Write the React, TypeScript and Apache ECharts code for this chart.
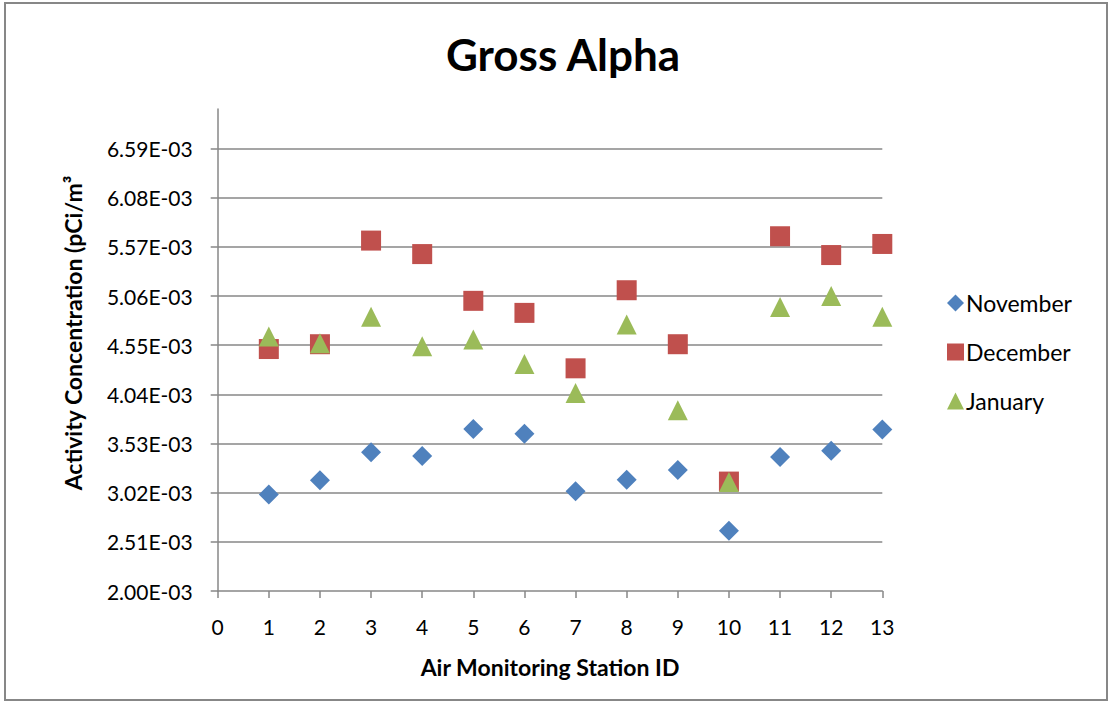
import React, { useEffect, useRef } from "react";
import * as echarts from "echarts";

const stations = [1, 2, 3, 4, 5, 6, 7, 8, 9, 10, 11, 12, 13];
const november = [3.0, 3.15, 3.44, 3.4, 3.68, 3.63, 3.035, 3.155, 3.255, 2.625, 3.39, 3.455, 3.675];
const december = [4.51, 4.56, 5.635, 5.495, 5.01, 4.885, 4.31, 5.12, 4.56, 3.135, 5.68, 5.485, 5.6];
const january = [4.64, 4.57, 4.845, 4.54, 4.61, 4.355, 4.055, 4.765, 3.875, 3.13, 4.945, 5.06, 4.845];
const yTicks = [2.0, 2.51, 3.02, 3.53, 4.04, 4.55, 5.06, 5.57, 6.08, 6.59].map((v) => v / 1000);
const xTicks = [0, 1, 2, 3, 4, 5, 6, 7, 8, 9, 10, 11, 12, 13];

const FONT = "Lato, 'Open Sans', sans-serif";
const GREY = "#878787";

function fmtE(v: number): string {
  const s = v.toExponential(2);
  const [m, e] = s.split("e");
  const n = parseInt(e, 10);
  const abs = Math.abs(n);
  return `${m}E${n < 0 ? "-" : "+"}${abs < 10 ? "0" + abs : abs}`;
}

function toPairs(vals: number[]) {
  return stations.map((s, i) => [s, vals[i] / 1000]);
}

export default function App() {
  const ref = useRef<HTMLDivElement>(null);
  useEffect(() => {
    if (!ref.current) return;
    const chart = echarts.init(ref.current, undefined, { renderer: "svg" });
    chart.setOption({
      animation: false,
      backgroundColor: "#ffffff",
      textStyle: { fontFamily: FONT },
      title: {
        text: "Gross Alpha",
        left: 558,
        top: 27,
        textAlign: "center",
        textStyle: { fontFamily: FONT, fontWeight: "bold", fontSize: 44, color: "#000" },
      },
      legend: {
        orient: "vertical",
        left: 942,
        top: 286,
        itemWidth: 17,
        itemHeight: 17,
        itemGap: 25,
        textStyle: { fontFamily: FONT, fontSize: 23, lineHeight: 24, color: "#000", padding: [0, 0, 0, -3] },
        data: [
          { name: "November", icon: "diamond" },
          { name: "December", icon: "rect" },
          { name: "January", icon: "triangle" },
        ],
      },
      grid: { left: 217.7, top: 109, right: 229.7, bottom: 111, containLabel: false },
      xAxis: {
        type: "value",
        min: 0,
        max: 13,
        interval: 1,
        name: "Air Monitoring Station ID",
        nameLocation: "middle",
        nameGap: 64,
        nameTextStyle: { fontFamily: FONT, fontWeight: "bold", fontSize: 23, color: "#000" },
        axisLine: { show: true, lineStyle: { color: GREY, width: 1.5 } },
        axisTick: { show: true, inside: false, length: 7, lineStyle: { color: GREY, width: 1.5 } },
        axisLabel: {
          customValues: xTicks,
          margin: 25,
          fontFamily: FONT,
          fontSize: 21,
          color: "#000",
        },
        splitLine: { show: false },
      },
      yAxis: {
        type: "value",
        min: 0.002,
        max: 0.007,
        interval: 0.00051,
        axisLine: { show: true, lineStyle: { color: GREY, width: 1.5 } },
        axisTick: {
          show: true,
          inside: false,
          length: 7,
          customValues: yTicks,
          lineStyle: { color: GREY, width: 1.5 },
        },
        axisLabel: {
          customValues: yTicks,
          margin: 25,
          fontFamily: FONT,
          fontSize: 21,
          color: "#000",
          formatter: (v: number) => fmtE(v),
        },
        splitLine: {
          show: true,
          showMinLine: false,
          lineStyle: { color: GREY, width: 1.5 },
        },
      },
      graphic: [
        {
          type: "rect",
          shape: { x: 5, y: 3, width: 1102, height: 697 },
          style: { fill: "none", stroke: GREY, lineWidth: 2 },
          silent: true,
        },
        {
          type: "text",
          x: 73,
          y: 333,
          rotation: Math.PI / 2,
          style: {
            text: "Activity Concentration (pCi/m³",
            font: `bold 23px ${FONT}`,
            fill: "#000",
            textAlign: "center",
            textVerticalAlign: "middle",
          },
          silent: true,
        },
      ],
      series: [
        {
          name: "November",
          type: "scatter",
          symbol: "diamond",
          symbolSize: 20,
          itemStyle: { color: "#4F81BD", opacity: 1 },
          data: toPairs(november),
        },
        {
          name: "December",
          type: "scatter",
          symbol: "rect",
          symbolSize: 20,
          itemStyle: { color: "#C0504D", opacity: 1 },
          data: toPairs(december),
        },
        {
          name: "January",
          type: "scatter",
          symbol: "triangle",
          symbolSize: 20,
          itemStyle: { color: "#9BBB59", opacity: 1 },
          data: toPairs(january),
        },
      ],
    });
    return () => chart.dispose();
  }, []);
  return (
    <div
      ref={ref}
      style={{ position: "fixed", left: 0, top: 0, width: 1112, height: 702 }}
    />
  );
}
